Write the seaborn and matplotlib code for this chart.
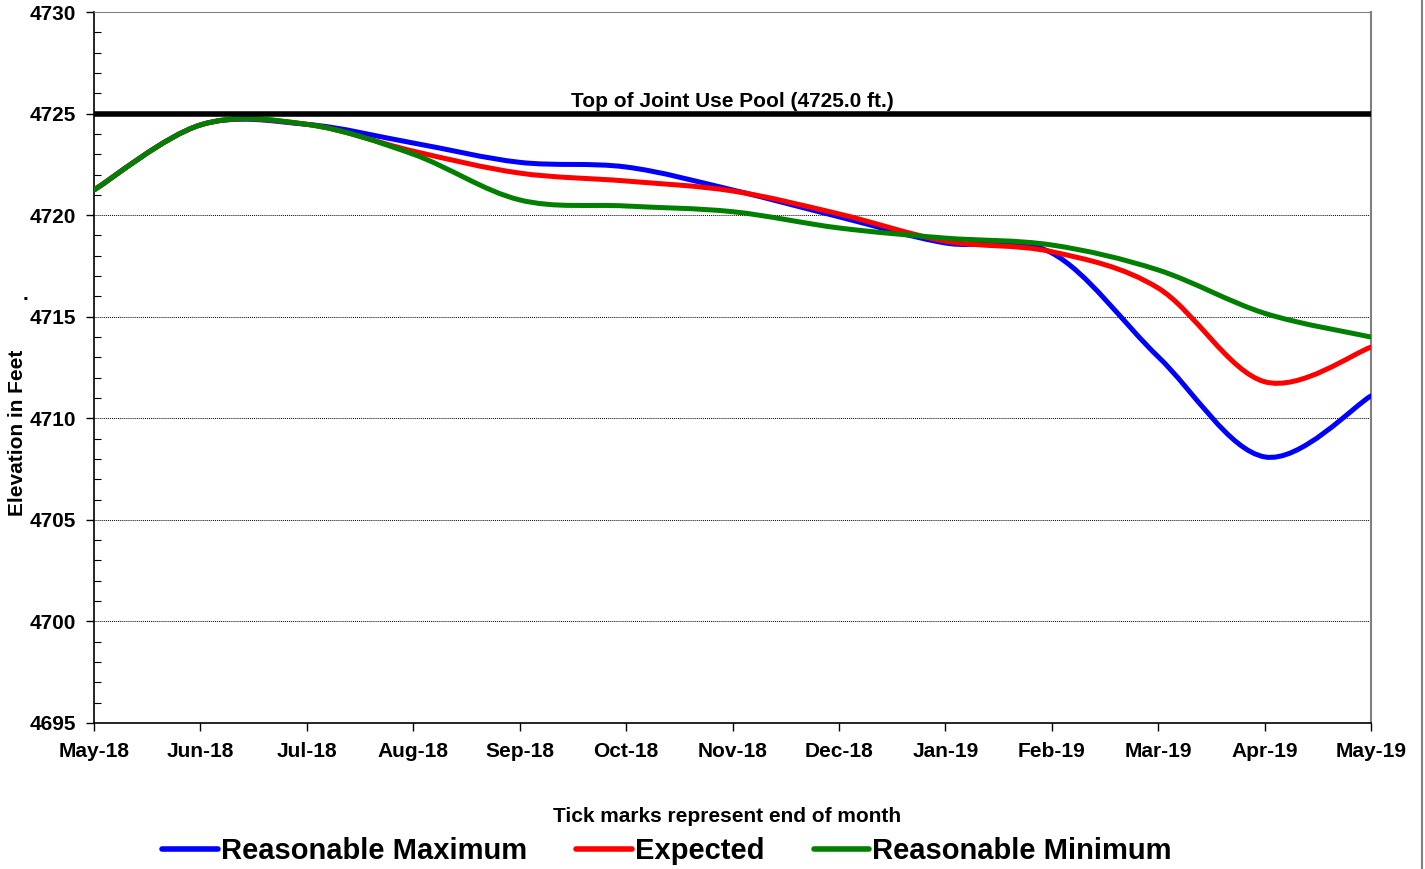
import numpy as np
import pandas as pd
import matplotlib
matplotlib.use("Agg")
import matplotlib.pyplot as plt
import seaborn as sns
from matplotlib.path import Path
from matplotlib.patches import PathPatch
from matplotlib.lines import Line2D
from matplotlib.ticker import MultipleLocator

# month-end elevations
months = ["May-18", "Jun-18", "Jul-18", "Aug-18", "Sep-18", "Oct-18", "Nov-18",
          "Dec-18", "Jan-19", "Feb-19", "Mar-19", "Apr-19", "May-19"]
reasonable_max = [4721.24, 4724.44, 4724.47, 4723.55, 4722.60, 4722.37, 4721.24,
                  4719.92, 4718.63, 4718.14, 4713.03, 4708.10, 4711.10]
expected = [4721.24, 4724.44, 4724.47, 4723.15, 4722.07, 4721.68, 4721.19,
            4720.06, 4718.72, 4718.20, 4716.41, 4711.80, 4713.50]
reasonable_min = [4721.24, 4724.44, 4724.47, 4723.00, 4720.75, 4720.45, 4720.17,
                  4719.37, 4718.87, 4718.53, 4717.30, 4715.17, 4714.00]
pool_top = 4725.0
pool_label = "Top of Joint Use Pool (4725.0 ft.)"

series = {
    "Reasonable Maximum": (reasonable_max, "#0000FF"),
    "Expected": (expected, "#FF0000"),
    "Reasonable Minimum": (reasonable_min, "#008000"),
}


def smooth_path(x, y):
    """Excel-style smoothed line: cubic Bezier through every point."""
    pts = np.column_stack([x, y]).astype(float)
    padded = np.vstack([pts[0], pts, pts[-1]])
    verts = [pts[0]]
    codes = [Path.MOVETO]
    for i in range(1, len(pts)):
        p0, p1, p2, p3 = padded[i - 1], padded[i], padded[i + 1], padded[i + 2]
        verts += [p1 + (p2 - p0) / 6, p2 - (p3 - p1) / 6, p2]
        codes += [Path.CURVE4] * 3
    return Path(verts, codes)


sns.set_style("white")
plt.rcParams["font.family"] = ["Liberation Sans", "DejaVu Sans"]
plt.rcParams["font.weight"] = "bold"
for key in ["text.color", "axes.labelcolor", "xtick.color", "ytick.color"]:
    plt.rcParams[key] = "black"

fig = plt.figure(figsize=(14.25, 8.69), dpi=100)
ax = fig.add_axes([94 / 1425, 1 - 723 / 869, (1371 - 94) / 1425, (723 - 12) / 869])

x = np.arange(len(months))
for name, (vals, color) in series.items():
    ax.add_patch(PathPatch(smooth_path(x, vals), facecolor="none", edgecolor=color,
                           lw=3.6, capstyle="round", joinstyle="round", zorder=3))

ax.axhline(pool_top, color="black", lw=4, zorder=4)
ax.text((len(months) - 1) / 2, pool_top + 0.15, pool_label, ha="center", va="bottom",
        fontsize=15, fontweight="bold", zorder=5)

ax.set_xlim(0, len(months) - 1)
ax.set_ylim(4695, 4730)
ax.set_xticks(x)
ax.set_xticklabels(months, fontsize=15, fontweight="bold")
ax.yaxis.set_major_locator(MultipleLocator(5))
ax.yaxis.set_minor_locator(MultipleLocator(1))
ax.tick_params(axis="y", which="major", direction="out", length=6, width=1,
               labelsize=15, pad=7, left=True)
ax.tick_params(axis="y", which="minor", direction="in", length=5, width=0.8, left=True)
ax.tick_params(axis="x", which="major", direction="out", length=6, width=1, pad=8, bottom=True)
for lbl in ax.get_yticklabels():
    lbl.set_fontweight("bold")

for yv in range(4700, 4725, 5):
    ax.axhline(yv, color="black", lw=0.7, ls=(0, (1, 1)), zorder=1)

ax.spines["left"].set_color("black")
ax.spines["bottom"].set_color("black")
ax.spines["left"].set_linewidth(1.2)
ax.spines["bottom"].set_linewidth(1.2)
ax.spines["top"].set_color("#808080")
ax.spines["top"].set_linewidth(0.8)
ax.spines["right"].set_color("#808080")
ax.spines["right"].set_linewidth(1.5)

fig.text(18 / 1425, 1 - 433 / 869, "Elevation in Feet", rotation=90, ha="center",
         va="center", fontsize=15, fontweight="bold")
fig.text(25 / 1425, 1 - 294 / 869, ".", ha="center", va="center", fontsize=15,
         fontweight="bold")
fig.text(727 / 1425, 1 - 816 / 869, "Tick marks represent end of month", ha="center",
         va="center", fontsize=15, fontweight="bold")

handles = [Line2D([], [], color=c, lw=4, solid_capstyle="round") for _, c in series.values()]
fig.legend(handles, list(series.keys()), loc="center", bbox_to_anchor=(667 / 1425, 1 - 851 / 869),
           ncol=3, frameon=False, prop={"size": 21, "weight": "bold"},
           handlelength=1.9, handletextpad=0.1, columnspacing=1.7)

fig.add_artist(Line2D([1422 / 1425, 1422 / 1425], [0, 1], color="#808080", lw=1.5))

fig.savefig("out.png", dpi=100)
